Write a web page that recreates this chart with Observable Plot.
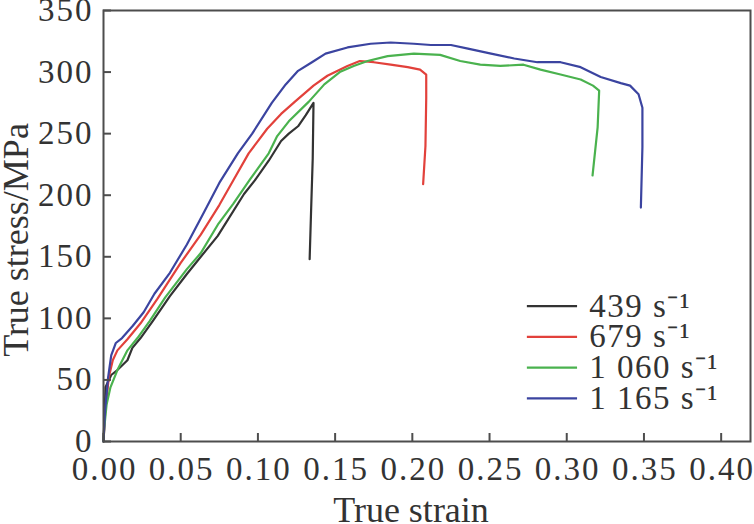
<!DOCTYPE html>
<html><head><meta charset="utf-8">
<script src="https://cdn.jsdelivr.net/npm/d3@7"></script>
<script src="https://cdn.jsdelivr.net/npm/@observablehq/plot@0.6"></script>
<style>
body{margin:0;background:#fff;}
#chart svg{display:block;}
#chart g[aria-label="x-axis tick label"] text,
#chart g[aria-label="y-axis tick label"] text{letter-spacing:2px;}
#chart g.legend-text text{letter-spacing:1.5px;}
</style>
</head><body><div id="chart"></div>
<script>
const seriesNames = ["439 s⁻¹", "679 s⁻¹", "1 060 s⁻¹", "1 165 s⁻¹"];
const seriesColors = ["#333333", "#e2413b", "#4ab24e", "#3b44a0"];
const xTicks = [0, 0.05, 0.10, 0.15, 0.20, 0.25, 0.30, 0.35, 0.40];
const yTicks = [0, 50, 100, 150, 200, 250, 300, 350];

const strain439 = [0,0.0005,0.0013,0.005,0.009,0.0155,0.0187,0.024,0.032,0.043,0.054,0.063,0.074,0.091,0.098,0.107,0.115,0.120,0.126,0.131,0.136,0.1355,0.1345,0.1335];
const stress439 = [0,15,44,54,58,66,76,84,98,118,136,150,167,201,212,228,244,250,256,265,275,230,190,148];

const strain679 = [0,0.001,0.0034,0.006,0.009,0.0155,0.024,0.035,0.050,0.063,0.075,0.084,0.094,0.106,0.115,0.124,0.136,0.145,0.158,0.166,0.175,0.186,0.197,0.205,0.209,0.209,0.2085,0.207];
const stress679 = [0,22,52,66,74,83,96,116,145,168,192,212,234,254,266,276,289,297,305,309,308,306,304,302,298,279,240,209];

const strain1060 = [0,0.0005,0.002,0.0045,0.009,0.0155,0.022,0.030,0.040,0.054,0.063,0.0745,0.084,0.095,0.107,0.1125,0.120,0.133,0.143,0.153,0.162,0.171,0.184,0.201,0.218,0.231,0.244,0.257,0.272,0.283,0.296,0.309,0.317,0.321,0.320,0.3167];
const stress1060 = [0,11,30,44,58,74,84,98,117,140,153,177,193,213,234,248,260,276,290,300,305,309,313,315,314,309,306,305,306,302,298,294,289,285,255,216];

const strain1165 = [0,0.001,0.003,0.005,0.008,0.012,0.019,0.026,0.033,0.043,0.054,0.065,0.075,0.087,0.0963,0.109,0.118,0.126,0.135,0.1438,0.158,0.173,0.186,0.201,0.212,0.225,0.236,0.251,0.266,0.281,0.296,0.309,0.322,0.335,0.341,0.3465,0.349,0.349,0.348];
const stress1165 = [0,25,52,70,80,84,94,105,120,137,160,186,210,234,250,275,290,301,308,315,320,323,324,323,322,322,319,315,311,308,308,304,296,291,289,282,271,239,190];

const strains = [strain439, strain679, strain1060, strain1165];
const stresses = [stress439, stress679, stress1060, stress1165];

const rows = [];
seriesNames.forEach((name, k) => {
  strains[k].forEach((s, i) => rows.push({rate: name, strain: s, stress: stresses[k][i]}));
});

// legend layout (inside plot area, in data units)
const legendRows = seriesNames.map((name, i) => ({rate: name, y: 110 - 25 * i}));
const legendX1 = 0.2745, legendX2 = 0.307, legendTextX = 0.3145;

const W = 754, H = 524, mL = 103, mR = 4, mT = 10, mB = 83;
const tickLen = 8;
const font = "'Liberation Serif', 'Times New Roman', serif";
const axisColor = "#4d4d4d";

const chart = Plot.plot({
  width: W, height: H,
  marginLeft: mL, marginRight: mR, marginTop: mT, marginBottom: mB,
  style: {fontFamily: font, fontSize: "33px", color: "#333", background: "#fff", overflow: "visible"},
  x: {domain: [0, 0.419], axis: null},
  y: {domain: [0, 350], axis: null},
  color: {domain: seriesNames, range: seriesColors},
  marks: [
    Plot.line(rows, {x: "strain", y: "stress", z: "rate", stroke: "rate", strokeWidth: 2.2, strokeLinejoin: "round", strokeLinecap: "round"}),
    Plot.tickX(xTicks, {x: d => d, insetTop: H - mT - mB - tickLen, stroke: axisColor, strokeWidth: 2}),
    Plot.tickY(yTicks, {y: d => d, insetRight: W - mL - mR - tickLen, stroke: axisColor, strokeWidth: 2}),
    Plot.frame({stroke: axisColor, strokeWidth: 2}),
    Plot.axisX({ticks: xTicks, tickSize: 0, tickPadding: 15, tickFormat: d3.format(".2f"), label: null, fontSize: 33, fill: "#333", dx: 1}),
    Plot.axisY({ticks: yTicks, tickSize: 0, tickPadding: 10, tickFormat: d3.format("d"), label: null, fontSize: 33, fill: "#333"}),
    Plot.text(["True strain"], {frameAnchor: "bottom", dx: -16, dy: 69, lineAnchor: "middle", fontSize: 36, fill: "#333"}),
    Plot.text(["True stress/MPa"], {frameAnchor: "left", rotate: -90, dx: -87, dy: 14, lineAnchor: "middle", textAnchor: "middle", fontSize: 36, fill: "#333"}),
    Plot.ruleY(legendRows, {y: "y", x1: legendX1, x2: legendX2, stroke: "rate", strokeWidth: 2.2}),
    Plot.text(legendRows, {y: "y", x: legendTextX, text: "rate", textAnchor: "start", lineAnchor: "middle", fontSize: 33, fill: "#333", className: "legend-text"})
  ]
});
document.getElementById("chart").appendChild(chart);
</script>
</body></html>
